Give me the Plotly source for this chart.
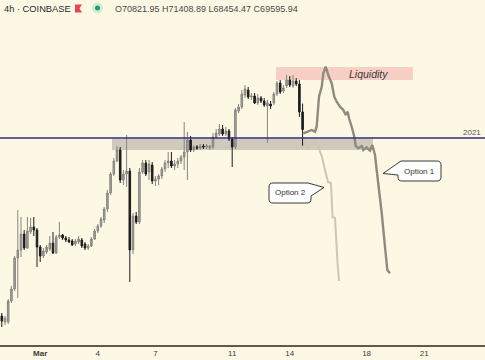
import plotly.graph_objects as go
import pandas as pd

# ---------------- data (BTC/USD 4h, Coinbase) ----------------
open_ = [56540, 56120, 56120, 57590, 58430, 60600, 61160, 62280, 61300, 62420,
         62770, 62560, 61370, 60740, 61020, 61230, 61650, 60950, 62070, 62210,
         62000, 61860, 61790, 61580, 61720, 61860, 61580, 61300, 61440, 61930,
         62490, 62840, 63260, 64030, 65150, 66480, 67390, 68160, 66060, 66480,
         66690, 61160, 63540, 63120, 66620, 67250, 66620, 67110, 65990, 66130,
         66340, 66830, 67250, 67390, 67040, 67180, 67390, 67670, 68020, 68860,
         68160, 68370, 68300, 68440, 68370, 68300, 68370, 69070, 69280, 69630,
         69280, 69490, 68930, 68370, 70890, 71170, 72010, 72360, 71870, 71940,
         71450, 71800, 71590, 71240, 71380, 71450, 72080, 72850, 72290, 72640,
         73060, 72640, 72990, 72780, 70821.95]
high_ = [56750, 56540, 57730, 58640, 60740, 63960, 63470, 62560, 63470, 63400,
         63470, 62700, 61510, 61300, 61510, 62140, 62420, 62210, 63120, 62280,
         62140, 62070, 61930, 61930, 62140, 62000, 61720, 61580, 62070, 62630,
         62980, 63470, 64170, 65360, 66620, 67600, 68440, 68370, 66760, 69210,
         66900, 63750, 63820, 66900, 67460, 67460, 67460, 67320, 66340, 66480,
         66970, 67460, 68020, 68020, 67460, 67600, 67810, 70120, 69420, 69140,
         68510, 68510, 68580, 68580, 68580, 68510, 69350, 69630, 69980, 69910,
         69770, 69630, 69070, 71100, 71380, 72360, 72710, 72570, 72150, 72150,
         72080, 71940, 71800, 71660, 71590, 72220, 72990, 73060, 72710, 73410,
         73340, 73410, 73200, 73060, 71408.89]
low_ = [55770, 55910, 55980, 57450, 58290, 57800, 60670, 61160, 61230, 62280,
        62140, 59970, 60320, 60600, 60880, 61090, 60880, 60880, 61930, 61860,
        61720, 61650, 61440, 61440, 61580, 61300, 61160, 61160, 61370, 61860,
        62350, 62700, 63050, 63820, 65010, 66340, 67320, 65850, 65710, 65570,
        58920, 60880, 62980, 62980, 66480, 66340, 66060, 65780, 65640, 65710,
        66130, 66620, 66900, 66900, 66760, 66900, 67180, 66760, 66060, 68020,
        68020, 68160, 68160, 68230, 68230, 68160, 68230, 68930, 69140, 69140,
        69140, 68790, 66970, 68230, 70750, 71030, 71800, 71730, 71660, 71380,
        71310, 71450, 71170, 68650, 71030, 71310, 71940, 72080, 72150, 72500,
        72570, 72500, 72640, 70470, 68454.47]
close_ = [56190, 56400, 57590, 58430, 60600, 61160, 62280, 61300, 62490, 62770,
          62560, 61370, 60740, 61090, 61370, 61650, 60950, 62070, 62210, 62000,
          61860, 61720, 61510, 61790, 61930, 61440, 61300, 61440, 61930, 62490,
          62840, 63330, 64030, 65150, 66480, 67390, 68160, 66060, 66480, 66690,
          61160, 63540, 63120, 66620, 67250, 66480, 67180, 65990, 66130, 66340,
          66830, 67250, 67390, 67040, 67180, 67390, 67670, 68020, 68860, 68160,
          68370, 68300, 68440, 68370, 68440, 68440, 69070, 69350, 69630, 69280,
          69490, 68930, 68370, 70960, 71170, 72080, 72430, 71870, 71940, 71450,
          71800, 71590, 71310, 71450, 71240, 72080, 72850, 72220, 72500, 73060,
          72710, 72990, 72780, 70822, 69595.94]
candle_times = pd.date_range("2024-02-28 00:00", periods=len(open_), freq="4h")

opt1_t = ["2024-03-14 16:54", "2024-03-14 21:06", "2024-03-15 03:24", "2024-03-15 07:30",
          "2024-03-15 09:36", "2024-03-15 10:54", "2024-03-15 12:30", "2024-03-15 15:54",
          "2024-03-15 17:54", "2024-03-15 20:54", "2024-03-16 00:06", "2024-03-16 04:24",
          "2024-03-16 07:36", "2024-03-16 10:36", "2024-03-16 14:45", "2024-03-16 18:54",
          "2024-03-16 21:54", "2024-03-17 00:24", "2024-03-17 02:00", "2024-03-17 05:24",
          "2024-03-17 08:36", "2024-03-17 10:24", "2024-03-17 13:36", "2024-03-17 17:54",
          "2024-03-17 19:54", "2024-03-18 00:06", "2024-03-18 04:15", "2024-03-18 07:06",
          "2024-03-18 10:30", "2024-03-18 12:36", "2024-03-18 15:54", "2024-03-18 18:54",
          "2024-03-18 21:45", "2024-03-19 00:15", "2024-03-19 01:54", "2024-03-19 05:15"]
opt1_p = [69330, 69440, 69560, 69440, 69790, 70750, 71890, 72590, 73530, 73990,
          73410, 72830, 71890, 71540, 71190, 70960, 70610, 70840, 70380, 69790,
          69090, 68440, 68280, 68440, 68160, 68350, 68110, 68510, 67810, 66760,
          65360, 63750, 62090, 60690, 59760, 59530]

opt2_t = ["2024-03-14 16:54", "2024-03-14 21:30", "2024-03-15 02:30", "2024-03-15 07:30",
          "2024-03-15 11:15", "2024-03-15 16:15", "2024-03-15 20:00", "2024-03-15 23:45",
          "2024-03-16 03:30", "2024-03-16 04:45", "2024-03-16 05:24", "2024-03-16 08:30",
          "2024-03-16 09:45", "2024-03-16 11:36", "2024-03-16 13:30"]
opt2_p = [69070, 68230, 68580, 68860, 68440, 67670, 66760, 65920, 65850, 64660,
          63470, 63400, 61860, 60320, 58990]

level_2021 = 69000
zone_x = ["2024-03-04 17:45", "2024-03-18 08:00"]
zone_p = [68160, 68940]
liq_x = ["2024-03-13 06:45", "2024-03-20 09:54"]
liq_p = [73060, 73970]

tick_vals = ["2024-03-01", "2024-03-04", "2024-03-07", "2024-03-11",
             "2024-03-14", "2024-03-18", "2024-03-21"]
tick_text = ["<b>Mar</b>", "4", "7", "11", "14", "18", "21"]

header = "4h · COINBASE"
ohlc_text = "O70821.95 H71408.89 L68454.47 C69595.94"

# ---------------- figure ----------------
W, H = 485, 360
T, B = 0, 15
PH = H - T - B
BG = "#FDF8E4"
FONT = "Liberation Sans"


def px(x):
    return x / W


def py(y):
    return 1 - y / PH


fig = go.Figure()

fig.add_trace(go.Candlestick(
    x=candle_times, open=open_, high=high_, low=low_, close=close_,
    increasing=dict(line=dict(color="#858580", width=1), fillcolor="#a5a49d"),
    decreasing=dict(line=dict(color="#1c1c1c", width=1), fillcolor="#1c1c1c"),
    whiskerwidth=0, hoverinfo="skip", showlegend=False,
))

fig.add_trace(go.Scatter(x=opt2_t, y=opt2_p, mode="lines",
                         line=dict(color="#cdc7b2", width=2), hoverinfo="skip",
                         showlegend=False))
fig.add_trace(go.Scatter(x=opt1_t, y=opt1_p, mode="lines",
                         line=dict(color="#8e8b7f", width=2.4), hoverinfo="skip",
                         showlegend=False))

shapes = []
# grey zone
shapes.append(dict(type="rect", xref="x", yref="y", x0=zone_x[0], x1=zone_x[1],
                   y0=zone_p[0], y1=zone_p[1], fillcolor="#cfcabb",
                   line=dict(width=0), layer="below"))
# liquidity zone
shapes.append(dict(type="rect", xref="x", yref="y", x0=liq_x[0], x1=liq_x[1],
                   y0=liq_p[0], y1=liq_p[1], fillcolor="#f8cfc5",
                   line=dict(width=0), layer="below"))
# 2021 level
shapes.append(dict(type="line", xref="paper", yref="y", x0=0, x1=1,
                   y0=level_2021, y1=level_2021,
                   line=dict(color="#2f2a86", width=1.5), layer="above"))


def path_from(points):
    s = ""
    for cmd, pts in points:
        s += cmd + " " + " ".join(f"{px(a):.5f},{py(b):.5f}" for a, b in pts) + " "
    return s + "Z"


# Option 2 callout (tail right)
x0, x1, y0, y1, r = 269, 311, 183, 203, 4
p2 = [("M", [(x0 + r, y0)]), ("L", [(x1 - 3, y0)]), ("L", [(324, 187.5)]),
      ("L", [(x1, y0 + 13)]), ("L", [(x1, y1 - r)]), ("Q", [(x1, y1), (x1 - r, y1)]),
      ("L", [(x0 + r, y1)]), ("Q", [(x0, y1), (x0, y1 - r)]), ("L", [(x0, y0 + r)]),
      ("Q", [(x0, y0), (x0 + r, y0)])]
shapes.append(dict(type="path", xref="paper", yref="paper", path=path_from(p2),
                   fillcolor="#ffffff", line=dict(color="#3a3a3a", width=1), layer="above"))
# Option 1 callout (tail left)
x0, x1, y0, y1 = 398, 441, 161, 181
p1 = [("M", [(x0 + r, y0)]), ("L", [(x1 - r, y0)]), ("Q", [(x1, y0), (x1, y0 + r)]),
      ("L", [(x1, y1 - r)]), ("Q", [(x1, y1), (x1 - r, y1)]), ("L", [(x0 + r, y1)]),
      ("Q", [(x0, y1), (x0, y1 - r)]), ("L", [(x0, 175)]), ("L", [(383, 173.5)]),
      ("L", [(x0 + 3, y0)])]
shapes.append(dict(type="path", xref="paper", yref="paper", path=path_from(p1),
                   fillcolor="#ffffff", line=dict(color="#3a3a3a", width=1), layer="above"))

# header icons
shapes.append(dict(type="path", xref="paper", yref="paper",
                   path=path_from([("M", [(75, 4.5)]), ("L", [(82, 4.5)]), ("L", [(79.5, 8.5)]),
                                   ("L", [(82, 12.5)]), ("L", [(75, 12.5)])]),
                   fillcolor="#e8454f", line=dict(width=0), layer="above"))
shapes.append(dict(type="circle", xref="paper", yref="paper",
                   x0=px(92), x1=px(103), y0=py(13.5), y1=py(2.5),
                   fillcolor="#d3ecd9", line=dict(width=0), layer="above"))
shapes.append(dict(type="circle", xref="paper", yref="paper",
                   x0=px(95), x1=px(100), y0=py(10.5), y1=py(5.5),
                   fillcolor="#1f9e6a", line=dict(width=0), layer="above"))

annotations = [
    dict(text=header, xref="paper", yref="paper", x=px(2), y=py(8.5),
         xanchor="left", yanchor="middle", showarrow=False,
         font=dict(family=FONT, size=9.3, color="#2a2a2a")),
    dict(text=ohlc_text, xref="paper", yref="paper", x=px(113), y=py(8.5),
         xanchor="left", yanchor="middle", showarrow=False,
         font=dict(family=FONT, size=9, color="#4a4a4a")),
    dict(text="<i>Liquidity</i>", xref="paper", yref="paper", x=px(368.5), y=py(73.5),
         xanchor="center", yanchor="middle", showarrow=False,
         font=dict(family=FONT, size=10.5, color="#3a3a3a")),
    dict(text="2021", xref="paper", yref="y", x=px(483), y=level_2021, yshift=6,
         xanchor="right", yanchor="middle", showarrow=False,
         font=dict(family=FONT, size=8, color="#555555")),
    dict(text="Option 2", xref="paper", yref="paper", x=px(290), y=py(193),
         xanchor="center", yanchor="middle", showarrow=False,
         font=dict(family=FONT, size=8, color="#333333")),
    dict(text="Option 1", xref="paper", yref="paper", x=px(419.5), y=py(171),
         xanchor="center", yanchor="middle", showarrow=False,
         font=dict(family=FONT, size=8, color="#333333")),
]

fig.update_layout(
    width=W, height=H, margin=dict(l=0, r=0, t=T, b=B),
    paper_bgcolor=BG, plot_bgcolor=BG,
    shapes=shapes, annotations=annotations, showlegend=False,
    xaxis=dict(type="date", range=["2024-02-27 21:45", "2024-03-24 04:00"],
               rangeslider=dict(visible=False), showgrid=False, zeroline=False,
               showline=True, linecolor="#5e5b48", linewidth=1.5,
               tickmode="array", tickvals=tick_vals, ticktext=tick_text,
               ticks="", tickfont=dict(family=FONT, size=8, color="#3c3c3c"),
               fixedrange=True),
    yaxis=dict(range=[54510, 78660], visible=False, showgrid=False, fixedrange=True),
    hovermode=False,
)

fig.write_html("out.html", config=dict(displayModeBar=False),
               post_script="document.body.style.margin='0';"
                           "document.body.style.overflow='hidden';"
                           "document.body.style.background='#FDF8E4';")
